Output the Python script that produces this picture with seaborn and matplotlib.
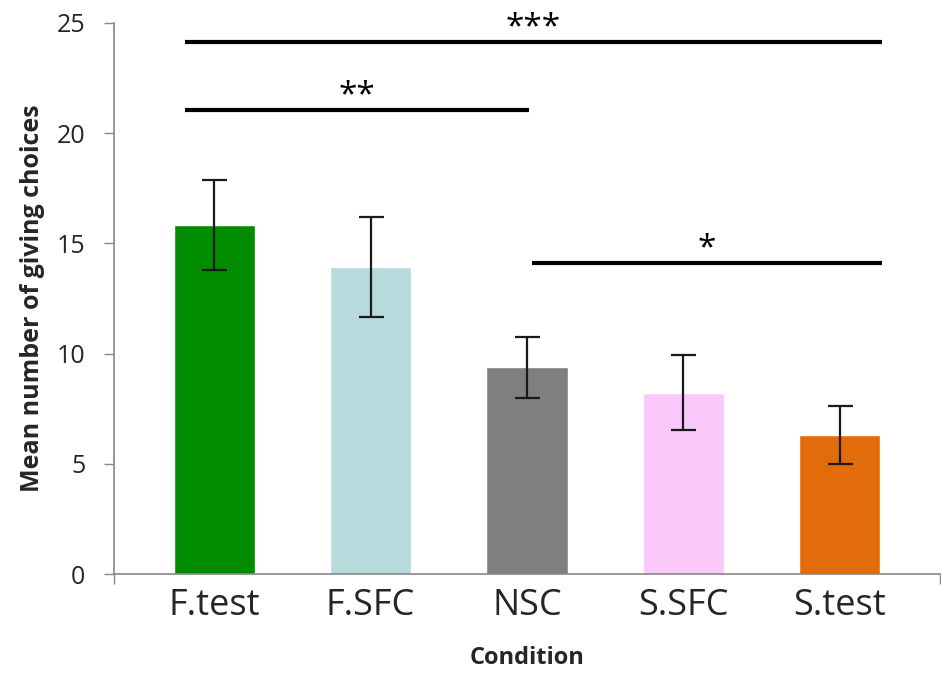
import numpy as np
import seaborn as sns
import matplotlib.pyplot as plt

# data
conditions = ["F.test", "F.SFC", "NSC", "S.SFC", "S.test"]
means = [15.82, 13.93, 9.38, 8.22, 6.30]
errors = [2.04, 2.27, 1.37, 1.70, 1.32]
bar_colors = ["#008C00", "#B7DADD", "#7F7F7F", "#FAC8FA", "#E36C0A"]

# significance comparisons
sig_from = ["F.test", "F.test", "NSC"]
sig_to = ["S.test", "NSC", "S.test"]
sig_level = [24.13, 21.05, 14.13]
sig_label = ["***", "**", "*"]

sns.set_style("white")
plt.rcParams["font.family"] = ["Open Sans", "DejaVu Sans"]

fig = plt.figure(figsize=(9.41, 6.74), dpi=100)
ax = fig.add_axes([0.1215, 0.148, 0.877, 0.818])

sns.barplot(x=conditions, y=means, hue=conditions, palette=bar_colors,
            legend=False, width=0.52, saturation=1, ax=ax)

# error bars
ax.errorbar(np.arange(len(conditions)), means, yerr=errors, fmt="none",
            ecolor="#1a1a1a", elinewidth=1.6, capsize=9, capthick=1.6)

# significance lines
for a, b, lvl, lab in zip(sig_from, sig_to, sig_level, sig_label):
    i, j = conditions.index(a), conditions.index(b)
    x0 = i - 0.19 if i == 0 else i + 0.03
    x1 = j + 0.27 if j == len(conditions) - 1 else j + 0.01
    ax.plot([x0, x1], [lvl, lvl], color="black", lw=3, solid_capstyle="butt")
    ax.text((x0 + x1) / 2, lvl + 0.25, lab, ha="center", va="baseline",
            fontsize=24, color="black")

ax.set_ylim(0, 25)
ax.set_xlim(-0.64, 4.64)
ax.set_yticks([0, 5, 10, 15, 20, 25])
ax.set_xticks([-0.64, 4.64], minor=True)
ax.tick_params(axis="y", labelsize=18, length=7, width=1, color="#868686",
               direction="out", left=True, pad=14)
ax.tick_params(axis="x", labelsize=26, length=0, pad=10)
ax.tick_params(axis="x", which="minor", bottom=True, length=7, width=1,
               color="#868686")

for side in ["top", "right"]:
    ax.spines[side].set_visible(False)
for side in ["left", "bottom"]:
    ax.spines[side].set_color("#868686")
    ax.spines[side].set_linewidth(1.2)

ax.set_ylabel("Mean number of giving choices", fontsize=18, fontweight="bold",
              labelpad=8)
ax.set_xlabel("Condition", fontsize=17, fontweight="bold", labelpad=16)

plt.savefig("out.png", dpi=100)
